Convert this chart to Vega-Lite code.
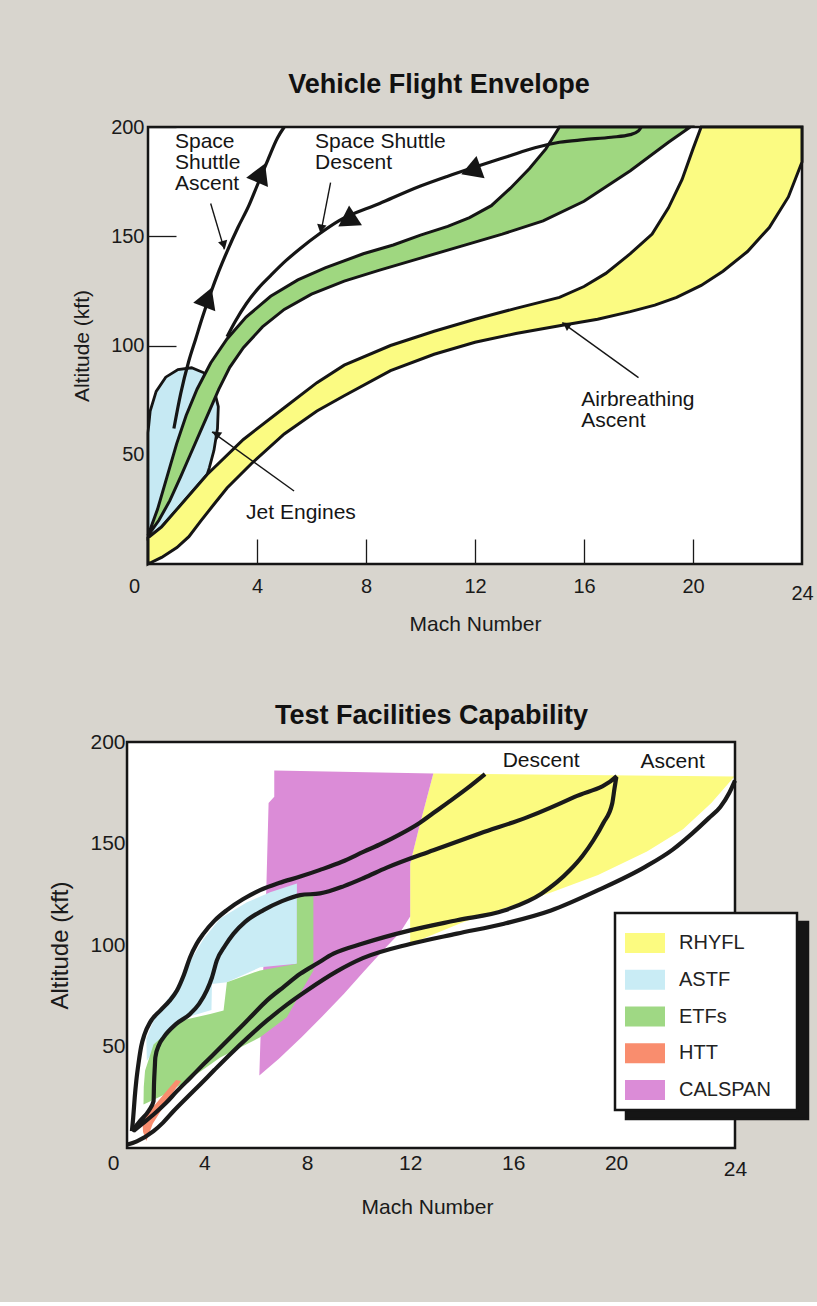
{
  "$schema": "https://vega.github.io/schema/vega-lite/v6.json",
  "background": "#d8d5ce",
  "padding": {"left": 48, "top": 69, "right": 4, "bottom": 85},
  "columns": 1,
  "align": "none",
  "spacing": 66,
  "resolve": {"scale": {"fill": "independent", "opacity": "independent"}, "legend": {"fill": "independent", "opacity": "independent"}},
  "config": {
    "font": "Liberation Sans",
    "view": {"stroke": "#151515", "strokeWidth": 2.5, "fill": "#ffffff"},
    "axis": {"grid": false, "domain": false, "labelColor": "#1a1a1a", "titleColor": "#1a1a1a", "tickColor": "#1a1a1a", "tickWidth": 1.3, "labelFlush": false, "labelOverlap": false, "labelBound": false, "titleFontWeight": "normal", "labelFont": "Liberation Sans", "titleFont": "Liberation Sans"},
    "title": {"fontWeight": "bold", "fontSize": 27, "color": "#111111", "font": "Liberation Sans"},
    "legend": {"strokeWidth": 2.5}
  },
  "datasets": {
    "top_shapes": [
      {"s":"blue","i":0,"M":0,"A":12},{"s":"blue","i":1,"M":0,"A":60},{"s":"blue","i":2,"M":0.08,"A":70},{"s":"blue","i":3,"M":0.3,"A":79},{"s":"blue","i":4,"M":0.65,"A":85.5},{"s":"blue","i":5,"M":1.1,"A":89},{"s":"blue","i":6,"M":1.6,"A":89.8},{"s":"blue","i":7,"M":2.05,"A":87.5},{"s":"blue","i":8,"M":2.4,"A":81},{"s":"blue","i":9,"M":2.58,"A":72},{"s":"blue","i":10,"M":2.55,"A":62},{"s":"blue","i":11,"M":2.42,"A":52},{"s":"blue","i":12,"M":2.25,"A":44},{"s":"blue","i":13,"M":2.17,"A":41},{"s":"blue","i":14,"M":1.06,"A":25},{"s":"blue","i":15,"M":0.5,"A":17},
      {"s":"green","i":0,"M":0,"A":13},{"s":"green","i":1,"M":0.35,"A":25},{"s":"green","i":2,"M":0.7,"A":40},{"s":"green","i":3,"M":1.05,"A":55},{"s":"green","i":4,"M":1.4,"A":68},{"s":"green","i":5,"M":1.8,"A":80},{"s":"green","i":6,"M":2.3,"A":92},{"s":"green","i":7,"M":2.9,"A":103},{"s":"green","i":8,"M":3.6,"A":113},{"s":"green","i":9,"M":4.5,"A":122.5},{"s":"green","i":10,"M":5.5,"A":130},{"s":"green","i":11,"M":6.5,"A":135.5},{"s":"green","i":12,"M":7.9,"A":142},{"s":"green","i":13,"M":9.0,"A":146},{"s":"green","i":14,"M":10.0,"A":150.5},{"s":"green","i":15,"M":11.0,"A":154.5},{"s":"green","i":16,"M":11.8,"A":158.5},{"s":"green","i":17,"M":12.6,"A":164},{"s":"green","i":18,"M":13.3,"A":172},{"s":"green","i":19,"M":14.0,"A":181},{"s":"green","i":20,"M":14.6,"A":190},{"s":"green","i":21,"M":15.1,"A":200},{"s":"green","i":22,"M":19.9,"A":200},{"s":"green","i":23,"M":19.1,"A":193},{"s":"green","i":24,"M":17.7,"A":180},{"s":"green","i":25,"M":16.0,"A":166},{"s":"green","i":26,"M":14.5,"A":157},{"s":"green","i":27,"M":13.0,"A":151},{"s":"green","i":28,"M":11.5,"A":145.5},{"s":"green","i":29,"M":10.0,"A":140},{"s":"green","i":30,"M":8.5,"A":134.5},{"s":"green","i":31,"M":7.2,"A":129.5},{"s":"green","i":32,"M":6.0,"A":123.5},{"s":"green","i":33,"M":5.0,"A":116.5},{"s":"green","i":34,"M":4.2,"A":108.5},{"s":"green","i":35,"M":3.5,"A":99},{"s":"green","i":36,"M":3.0,"A":90},{"s":"green","i":37,"M":2.6,"A":80},{"s":"green","i":38,"M":2.25,"A":70},{"s":"green","i":39,"M":1.9,"A":60},{"s":"green","i":40,"M":1.55,"A":50},{"s":"green","i":41,"M":1.2,"A":40},{"s":"green","i":42,"M":0.8,"A":29},{"s":"green","i":43,"M":0.4,"A":20},
      {"s":"yellow","i":0,"M":0,"A":0},{"s":"yellow","i":1,"M":0.5,"A":3},{"s":"yellow","i":2,"M":1.06,"A":7.5},{"s":"yellow","i":3,"M":1.5,"A":12.5},{"s":"yellow","i":4,"M":1.94,"A":19.7},{"s":"yellow","i":5,"M":2.4,"A":27},{"s":"yellow","i":6,"M":2.9,"A":34.8},{"s":"yellow","i":7,"M":3.8,"A":46},{"s":"yellow","i":8,"M":5.0,"A":59.5},{"s":"yellow","i":9,"M":6.2,"A":70},{"s":"yellow","i":10,"M":7.2,"A":77},{"s":"yellow","i":11,"M":8.9,"A":88.5},{"s":"yellow","i":12,"M":10.5,"A":96},{"s":"yellow","i":13,"M":12.0,"A":101.5},{"s":"yellow","i":14,"M":13.5,"A":105.5},{"s":"yellow","i":15,"M":15.1,"A":109},{"s":"yellow","i":16,"M":16.5,"A":112},{"s":"yellow","i":17,"M":17.7,"A":115.5},{"s":"yellow","i":18,"M":18.6,"A":118.5},{"s":"yellow","i":19,"M":19.4,"A":122},{"s":"yellow","i":20,"M":20.3,"A":127.5},{"s":"yellow","i":21,"M":21.1,"A":134},{"s":"yellow","i":22,"M":22.0,"A":143},{"s":"yellow","i":23,"M":22.8,"A":154},{"s":"yellow","i":24,"M":23.5,"A":168},{"s":"yellow","i":25,"M":24,"A":184},{"s":"yellow","i":26,"M":24,"A":200},{"s":"yellow","i":27,"M":20.3,"A":200},{"s":"yellow","i":28,"M":20.0,"A":190},{"s":"yellow","i":29,"M":19.6,"A":176},{"s":"yellow","i":30,"M":19.1,"A":163},{"s":"yellow","i":31,"M":18.5,"A":151},{"s":"yellow","i":32,"M":17.7,"A":142},{"s":"yellow","i":33,"M":16.8,"A":133},{"s":"yellow","i":34,"M":16.0,"A":127},{"s":"yellow","i":35,"M":15.1,"A":122},{"s":"yellow","i":36,"M":13.5,"A":117},{"s":"yellow","i":37,"M":12.0,"A":112},{"s":"yellow","i":38,"M":10.5,"A":106.5},{"s":"yellow","i":39,"M":8.9,"A":100},{"s":"yellow","i":40,"M":7.2,"A":91},{"s":"yellow","i":41,"M":6.2,"A":83},{"s":"yellow","i":42,"M":5.0,"A":71.5},{"s":"yellow","i":43,"M":3.5,"A":57},{"s":"yellow","i":44,"M":2.17,"A":41},{"s":"yellow","i":45,"M":1.06,"A":25},{"s":"yellow","i":46,"M":0.5,"A":17},{"s":"yellow","i":47,"M":0,"A":12}
    ],
    "top_lines": [
      {"s":"ascent","i":0,"M":0.95,"A":62},{"s":"ascent","i":1,"M":1.2,"A":78},{"s":"ascent","i":2,"M":1.5,"A":93},{"s":"ascent","i":3,"M":1.75,"A":103},{"s":"ascent","i":4,"M":2.0,"A":113},{"s":"ascent","i":5,"M":2.3,"A":124},{"s":"ascent","i":6,"M":2.6,"A":134},{"s":"ascent","i":7,"M":2.9,"A":143},{"s":"ascent","i":8,"M":3.3,"A":154},{"s":"ascent","i":9,"M":3.7,"A":164},{"s":"ascent","i":10,"M":4.0,"A":173},{"s":"ascent","i":11,"M":4.4,"A":185},{"s":"ascent","i":12,"M":4.75,"A":195},{"s":"ascent","i":13,"M":5.0,"A":200},
      {"s":"descent","i":0,"M":18.1,"A":200},{"s":"descent","i":1,"M":18.0,"A":198.2},{"s":"descent","i":2,"M":17.7,"A":196.5},{"s":"descent","i":3,"M":17.0,"A":195.3},{"s":"descent","i":4,"M":16.0,"A":194.2},{"s":"descent","i":5,"M":15.1,"A":193},{"s":"descent","i":6,"M":14.2,"A":190.5},{"s":"descent","i":7,"M":13.2,"A":186.5},{"s":"descent","i":8,"M":12.2,"A":182.5},{"s":"descent","i":9,"M":11.0,"A":177.5},{"s":"descent","i":10,"M":10.0,"A":173},{"s":"descent","i":11,"M":8.5,"A":165},{"s":"descent","i":12,"M":7.0,"A":157},{"s":"descent","i":13,"M":6.28,"A":151},{"s":"descent","i":14,"M":5.6,"A":144.5},{"s":"descent","i":15,"M":5.05,"A":138.7},{"s":"descent","i":16,"M":4.5,"A":132},{"s":"descent","i":17,"M":4.07,"A":126.5},{"s":"descent","i":18,"M":3.6,"A":119},{"s":"descent","i":19,"M":3.2,"A":111},{"s":"descent","i":20,"M":2.9,"A":104}
    ],
    "top_pointers": [
      {"s":"p1","i":0,"M":2.3,"A":165},{"s":"p1","i":1,"M":2.8,"A":144},
      {"s":"p2","i":0,"M":6.7,"A":174.5},{"s":"p2","i":1,"M":6.34,"A":151.5},
      {"s":"p3","i":0,"M":5.36,"A":33.4},{"s":"p3","i":1,"M":2.35,"A":60.5},
      {"s":"p4","i":0,"M":18.0,"A":85.3},{"s":"p4","i":1,"M":15.2,"A":110.5}
    ],
    "top_arrows": [
      {"kind":"big","M":2.2,"A":122,"ang":21},
      {"kind":"big","M":4.15,"A":179,"ang":23},
      {"kind":"big","M":7.3,"A":157,"ang":237},
      {"kind":"big","M":11.85,"A":180,"ang":250},
      {"kind":"small","M":2.78,"A":146,"ang":164},
      {"kind":"small","M":6.35,"A":153.5,"ang":191},
      {"kind":"small","M":2.5,"A":59.5,"ang":306},
      {"kind":"small","M":15.35,"A":109.5,"ang":305}
    ],
    "top_text": [
      {"label":"Space\nShuttle\nAscent","M":0.99,"A":198},
      {"label":"Space Shuttle\nDescent","M":6.13,"A":198},
      {"label":"Jet Engines","M":3.6,"A":28.5},
      {"label":"Airbreathing\nAscent","M":15.9,"A":80}
    ],
    "frame": [{"x1": 1.0, "x2": 24.62, "y1": 0, "y2": 200}],
    "bot_shapes": [
      {"s":"RHYFL","i":0,"M":12.0,"A":100.5},{"s":"RHYFL","i":1,"M":12.0,"A":140},{"s":"RHYFL","i":2,"M":12.35,"A":158},{"s":"RHYFL","i":3,"M":12.9,"A":184.5},{"s":"RHYFL","i":4,"M":24.6,"A":183},{"s":"RHYFL","i":5,"M":23.7,"A":170},{"s":"RHYFL","i":6,"M":22.6,"A":157},{"s":"RHYFL","i":7,"M":21.2,"A":146},{"s":"RHYFL","i":8,"M":19.3,"A":134.5},{"s":"RHYFL","i":9,"M":17.5,"A":126},{"s":"RHYFL","i":10,"M":15.5,"A":117.5},{"s":"RHYFL","i":11,"M":14.0,"A":111},
      {"s":"CALSPAN","i":0,"M":6.72,"A":186},{"s":"CALSPAN","i":1,"M":12.9,"A":184.5},{"s":"CALSPAN","i":2,"M":12.35,"A":158},{"s":"CALSPAN","i":3,"M":12.0,"A":140},{"s":"CALSPAN","i":4,"M":12.0,"A":114},{"s":"CALSPAN","i":5,"M":11.6,"A":106},{"s":"CALSPAN","i":6,"M":11.07,"A":99},{"s":"CALSPAN","i":7,"M":10.2,"A":87},{"s":"CALSPAN","i":8,"M":9.43,"A":76},{"s":"CALSPAN","i":9,"M":8.6,"A":65},{"s":"CALSPAN","i":10,"M":7.78,"A":54.6},{"s":"CALSPAN","i":11,"M":6.9,"A":44},{"s":"CALSPAN","i":12,"M":6.14,"A":35.7},{"s":"CALSPAN","i":13,"M":6.2,"A":60},{"s":"CALSPAN","i":14,"M":6.3,"A":90},{"s":"CALSPAN","i":15,"M":6.41,"A":127},{"s":"CALSPAN","i":16,"M":6.5,"A":170},{"s":"CALSPAN","i":17,"M":6.72,"A":173},
      {"s":"ASTF","i":0,"M":7.6,"A":130.3},{"s":"ASTF","i":1,"M":7.6,"A":90.8},{"s":"ASTF","i":2,"M":6.17,"A":89},{"s":"ASTF","i":3,"M":4.88,"A":81.7},{"s":"ASTF","i":4,"M":4.3,"A":80.8},{"s":"ASTF","i":5,"M":4.28,"A":68},{"s":"ASTF","i":6,"M":3.33,"A":64.4},{"s":"ASTF","i":7,"M":2.41,"A":54.5},{"s":"ASTF","i":8,"M":1.77,"A":43},{"s":"ASTF","i":9,"M":1.75,"A":54},{"s":"ASTF","i":10,"M":2.0,"A":62},{"s":"ASTF","i":11,"M":2.5,"A":72},{"s":"ASTF","i":12,"M":3.0,"A":80},{"s":"ASTF","i":13,"M":3.45,"A":92},{"s":"ASTF","i":14,"M":3.97,"A":103},{"s":"ASTF","i":15,"M":4.62,"A":113},{"s":"ASTF","i":16,"M":5.66,"A":121},{"s":"ASTF","i":17,"M":6.56,"A":126},
      {"s":"ETFs","i":0,"M":7.6,"A":124},{"s":"ETFs","i":1,"M":8.24,"A":126},{"s":"ETFs","i":2,"M":8.24,"A":87.5},{"s":"ETFs","i":3,"M":7.79,"A":77.6},{"s":"ETFs","i":4,"M":7.21,"A":64.4},{"s":"ETFs","i":5,"M":6.17,"A":54.5},{"s":"ETFs","i":6,"M":4.62,"A":44.6},{"s":"ETFs","i":7,"M":3.33,"A":33},{"s":"ETFs","i":8,"M":2.4,"A":26},{"s":"ETFs","i":9,"M":1.64,"A":21.4},{"s":"ETFs","i":10,"M":1.65,"A":30},{"s":"ETFs","i":11,"M":1.7,"A":38},{"s":"ETFs","i":12,"M":2.03,"A":51},{"s":"ETFs","i":13,"M":3.07,"A":62.7},{"s":"ETFs","i":14,"M":4.23,"A":66},{"s":"ETFs","i":15,"M":4.75,"A":67.7},{"s":"ETFs","i":16,"M":4.88,"A":81.7},{"s":"ETFs","i":17,"M":6.17,"A":87.5},{"s":"ETFs","i":18,"M":7.6,"A":90.8},
      {"s":"HTT","i":0,"M":1.6,"A":14},{"s":"HTT","i":1,"M":2.9,"A":33.5},{"s":"HTT","i":2,"M":3.1,"A":33},{"s":"HTT","i":3,"M":2.6,"A":24},{"s":"HTT","i":4,"M":2.0,"A":12},{"s":"HTT","i":5,"M":1.75,"A":3.5},{"s":"HTT","i":6,"M":1.62,"A":8}
    ],
    "bot_lines": [
      {"s":"L1","i":0,"M":1.19,"A":8.3},{"s":"L1","i":1,"M":1.24,"A":15},{"s":"L1","i":2,"M":1.3,"A":25},{"s":"L1","i":3,"M":1.36,"A":33},{"s":"L1","i":4,"M":1.45,"A":42},{"s":"L1","i":5,"M":1.55,"A":50},{"s":"L1","i":6,"M":1.68,"A":56},{"s":"L1","i":7,"M":1.9,"A":62},{"s":"L1","i":8,"M":2.29,"A":67.7},{"s":"L1","i":9,"M":2.65,"A":72.5},{"s":"L1","i":10,"M":2.94,"A":77.6},{"s":"L1","i":11,"M":3.2,"A":85},{"s":"L1","i":12,"M":3.45,"A":94},{"s":"L1","i":13,"M":3.7,"A":100.5},{"s":"L1","i":14,"M":3.97,"A":105.6},{"s":"L1","i":15,"M":4.4,"A":112},{"s":"L1","i":16,"M":4.88,"A":117.2},{"s":"L1","i":17,"M":5.5,"A":122.5},{"s":"L1","i":18,"M":6.17,"A":127},{"s":"L1","i":19,"M":6.9,"A":130.5},{"s":"L1","i":20,"M":7.73,"A":133.7},{"s":"L1","i":21,"M":8.5,"A":137},{"s":"L1","i":22,"M":9.35,"A":141},{"s":"L1","i":23,"M":10.2,"A":146},{"s":"L1","i":24,"M":10.9,"A":150},{"s":"L1","i":25,"M":11.6,"A":154.5},{"s":"L1","i":26,"M":12.35,"A":160},{"s":"L1","i":27,"M":12.9,"A":165},{"s":"L1","i":28,"M":13.45,"A":170},{"s":"L1","i":29,"M":14.2,"A":177},{"s":"L1","i":30,"M":14.91,"A":184.2},
      {"s":"L2","i":0,"M":1.19,"A":8.3},{"s":"L2","i":1,"M":1.51,"A":13.4},{"s":"L2","i":2,"M":1.85,"A":18.5},{"s":"L2","i":3,"M":2.03,"A":23},{"s":"L2","i":4,"M":2.05,"A":32},{"s":"L2","i":5,"M":2.08,"A":40},{"s":"L2","i":6,"M":2.1,"A":44.6},{"s":"L2","i":7,"M":2.25,"A":51},{"s":"L2","i":8,"M":2.42,"A":54.5},{"s":"L2","i":9,"M":2.9,"A":61},{"s":"L2","i":10,"M":3.45,"A":66},{"s":"L2","i":11,"M":3.8,"A":71},{"s":"L2","i":12,"M":4.1,"A":77.6},{"s":"L2","i":13,"M":4.3,"A":84},{"s":"L2","i":14,"M":4.49,"A":92.4},{"s":"L2","i":15,"M":4.8,"A":99.5},{"s":"L2","i":16,"M":5.14,"A":105.6},{"s":"L2","i":17,"M":5.6,"A":111.5},{"s":"L2","i":18,"M":6.3,"A":117.2},{"s":"L2","i":19,"M":7.0,"A":121.5},{"s":"L2","i":20,"M":7.73,"A":124.6},{"s":"L2","i":21,"M":8.5,"A":125.4},{"s":"L2","i":22,"M":9.43,"A":129},{"s":"L2","i":23,"M":10.2,"A":133},{"s":"L2","i":24,"M":11.07,"A":138},{"s":"L2","i":25,"M":12.9,"A":146.7},{"s":"L2","i":26,"M":14.73,"A":155},{"s":"L2","i":27,"M":16.56,"A":163},{"s":"L2","i":28,"M":18.39,"A":173},{"s":"L2","i":29,"M":20.03,"A":183.2},{"s":"L2","i":30,"M":19.95,"A":178},{"s":"L2","i":31,"M":19.85,"A":169.7},{"s":"L2","i":32,"M":19.5,"A":160},{"s":"L2","i":33,"M":19.12,"A":151.6},{"s":"L2","i":34,"M":18.7,"A":144},{"s":"L2","i":35,"M":18.2,"A":136.8},{"s":"L2","i":36,"M":17.1,"A":125.3},{"s":"L2","i":37,"M":15.65,"A":117},{"s":"L2","i":38,"M":13.82,"A":112.2},{"s":"L2","i":39,"M":12.0,"A":107.2},{"s":"L2","i":40,"M":10.16,"A":100.7},{"s":"L2","i":41,"M":9.02,"A":95.7},{"s":"L2","i":42,"M":8.4,"A":91},{"s":"L2","i":43,"M":7.73,"A":85.8},{"s":"L2","i":44,"M":7.1,"A":79.5},{"s":"L2","i":45,"M":6.43,"A":72.6},{"s":"L2","i":46,"M":5.8,"A":64.5},{"s":"L2","i":47,"M":5.14,"A":56},{"s":"L2","i":48,"M":4.55,"A":48.5},{"s":"L2","i":49,"M":3.97,"A":41.2},{"s":"L2","i":50,"M":3.45,"A":34.5},{"s":"L2","i":51,"M":2.94,"A":28},{"s":"L2","i":52,"M":2.5,"A":22},{"s":"L2","i":53,"M":2.03,"A":16.5},{"s":"L2","i":54,"M":1.6,"A":12},{"s":"L2","i":55,"M":1.25,"A":8.3},
      {"s":"L4","i":0,"M":0.99,"A":1.6},{"s":"L4","i":1,"M":1.38,"A":3.3},{"s":"L4","i":2,"M":2.03,"A":8.3},{"s":"L4","i":3,"M":2.4,"A":12.5},{"s":"L4","i":4,"M":2.81,"A":18.2},{"s":"L4","i":5,"M":3.3,"A":24.5},{"s":"L4","i":6,"M":3.84,"A":31.3},{"s":"L4","i":7,"M":4.4,"A":38.5},{"s":"L4","i":8,"M":5.01,"A":46.2},{"s":"L4","i":9,"M":5.7,"A":54.5},{"s":"L4","i":10,"M":6.43,"A":62.7},{"s":"L4","i":11,"M":7.2,"A":70.5},{"s":"L4","i":12,"M":7.99,"A":77.6},{"s":"L4","i":13,"M":9.15,"A":87},{"s":"L4","i":14,"M":10.16,"A":93.5},{"s":"L4","i":15,"M":12.0,"A":100.5},{"s":"L4","i":16,"M":13.82,"A":105.6},{"s":"L4","i":17,"M":15.65,"A":110.5},{"s":"L4","i":18,"M":17.47,"A":117},{"s":"L4","i":19,"M":19.3,"A":127},{"s":"L4","i":20,"M":21.13,"A":138.5},{"s":"L4","i":21,"M":22.2,"A":147},{"s":"L4","i":22,"M":22.96,"A":155},{"s":"L4","i":23,"M":23.6,"A":162.5},{"s":"L4","i":24,"M":24.05,"A":168},{"s":"L4","i":25,"M":24.4,"A":175},{"s":"L4","i":26,"M":24.62,"A":181}
    ],
    "bot_text": [
      {"label":"Descent","M":17.09,"A":190.5},
      {"label":"Ascent","M":22.2,"A":190}
    ]
  },
  "concat": [
    {
      "width": 654,
      "height": 437,
      "title": {"text": "Vehicle Flight Envelope", "offset": 18, "dx": -36},
      "encoding": {
        "x": {"field": "M", "type": "quantitative", "scale": {"domain": [0, 24], "nice": false, "zero": false},
          "axis": {"values": [0, 4, 8, 12, 16, 20, 24], "title": "Mach Number", "titleFontSize": 21, "titlePadding": 10, "labelFontSize": 20, "tickSize": -25,
            "tickOpacity": {"condition": {"test": "datum.value == 0 || datum.value == 24", "value": 0}, "value": 1},
            "labelPadding": {"condition": {"test": "datum.value == 24", "value": 44}, "value": 37},
            "labelOffset": {"condition": {"test": "datum.value == 0", "value": -14}, "value": 0}}},
        "y": {"field": "A", "type": "quantitative", "scale": {"domain": [0, 200], "nice": false, "zero": false},
          "axis": {"values": [50, 100, 150, 200], "title": ["", "Altitude (kft)"], "titleLineHeight": 22, "titleFontSize": 21, "titlePadding": 18, "labelFontSize": 20, "tickSize": -28, "labelPadding": 32}}
      },
      "layer": [
        {"data": {"name": "top_shapes"}, "transform": [{"filter": "datum.s == 'blue'"}],
          "mark": {"type": "line", "interpolate": "linear-closed", "fill": "#c6e9f3", "stroke": "#151515", "strokeWidth": 2.8},
          "encoding": {"order": {"field": "i", "type": "quantitative"}}},
        {"data": {"name": "top_shapes"}, "transform": [{"filter": "datum.s == 'green'"}],
          "mark": {"type": "line", "interpolate": "linear-closed", "fill": "#9fd780", "stroke": "#151515", "strokeWidth": 3},
          "encoding": {"order": {"field": "i", "type": "quantitative"}}},
        {"data": {"name": "top_shapes"}, "transform": [{"filter": "datum.s == 'yellow'"}],
          "mark": {"type": "line", "interpolate": "linear-closed", "fill": "#fbfb82", "stroke": "#151515", "strokeWidth": 3},
          "encoding": {"order": {"field": "i", "type": "quantitative"}}},
        {"data": {"name": "top_lines"},
          "mark": {"type": "line", "interpolate": "monotone", "stroke": "#151515", "strokeWidth": 3.2},
          "encoding": {"detail": {"field": "s"}, "order": {"field": "i", "type": "quantitative"}}},
        {"data": {"name": "top_pointers"},
          "mark": {"type": "line", "stroke": "#151515", "strokeWidth": 1.4},
          "encoding": {"detail": {"field": "s"}, "order": {"field": "i", "type": "quantitative"}}},
        {"data": {"name": "top_arrows"}, "transform": [{"filter": "datum.kind == 'big'"}],
          "mark": {"type": "point", "shape": "triangle-up", "filled": true, "color": "#151515", "opacity": 1, "size": 560},
          "encoding": {"angle": {"field": "ang", "type": "quantitative", "scale": null}}},
        {"data": {"name": "top_arrows"}, "transform": [{"filter": "datum.kind == 'small'"}],
          "mark": {"type": "point", "shape": "triangle-up", "filled": true, "color": "#151515", "opacity": 1, "size": 90},
          "encoding": {"angle": {"field": "ang", "type": "quantitative", "scale": null}}},
        {"data": {"name": "top_text"},
          "mark": {"type": "text", "align": "left", "baseline": "top", "lineBreak": "\n", "fontSize": 21, "lineHeight": 21, "color": "#151515", "font": "Liberation Sans"},
          "encoding": {"text": {"field": "label"}}}
      ]
    },
    {
      "width": 587,
      "height": 406,
      "view": {"stroke": null, "fill": null},
      "title": {"text": "Test Facilities Capability", "offset": 1, "dx": -10},
      "encoding": {
        "x": {"field": "M", "type": "quantitative", "scale": {"domain": [1.815, 24.62], "nice": false, "zero": false},
          "axis": {"values": [1.815, 4, 8, 12, 16, 20, 24.62], "labelExpr": "datum.value < 2 ? '0' : datum.value > 24 ? '24' : datum.label", "title": "Mach Number", "titleX": 279, "titleFontSize": 21, "titlePadding": 17, "labelFontSize": 21, "tickSize": -20,
            "tickOpacity": {"condition": {"test": "datum.value < 2 || datum.value > 24", "value": 0}, "value": 1},
            "labelPadding": {"condition": {"test": "datum.value > 24", "value": 30}, "value": 24},
            "labelOffset": {"condition": {"test": "datum.value < 2", "value": -35}, "value": 0}}},
        "y": {"field": "A", "type": "quantitative", "scale": {"domain": [0, 200], "nice": false, "zero": false},
          "axis": {"values": [50, 100, 150, 200], "offset": 21, "title": "Altitude (kft)", "titleFontSize": 24, "titlePadding": 17, "labelFontSize": 21, "tickSize": -22, "labelPadding": 24}}
      },
      "layer": [
        {"data": {"name": "frame"},
          "mark": {"type": "rect", "fill": "#ffffff", "strokeWidth": 0},
          "encoding": {"x": {"field": "x1", "type": "quantitative"}, "x2": {"field": "x2"}, "y": {"field": "y1", "type": "quantitative"}, "y2": {"field": "y2"}}},
        {"data": {"name": "bot_shapes"}, "transform": [{"filter": "datum.s == 'RHYFL'"}],
          "mark": {"type": "line", "interpolate": "linear-closed", "stroke": "transparent", "strokeWidth": 0},
          "encoding": {"order": {"field": "i", "type": "quantitative"},
            "fill": {"field": "s", "type": "nominal", "scale": {"domain": ["RHYFL", "ASTF", "ETFs", "HTT", "CALSPAN"], "range": ["#fcfb80", "#c9ecf5", "#9fd884", "#f98d6e", "#db8cd7"]},
              "legend": {"orient": "none", "legendX": 467, "legendY": 171, "zindex": 2, "title": ".", "titleOrient": "right", "titleColor": "#ffffff", "titleFontSize": 20, "titlePadding": 10, "symbolType": "M-1,-0.5H1V0.5H-1Z", "symbolSize": 1600, "symbolStrokeWidth": 0, "symbolOpacity": 1, "labelFontSize": 20, "labelFont": "Liberation Sans", "labelColor": "#222222", "padding": 10, "rowPadding": 6.75, "labelOffset": 14, "fillColor": "#ffffff", "strokeColor": "#151515"}}}},
        {"data": {"name": "bot_shapes"}, "transform": [{"filter": "datum.s == 'CALSPAN'"}],
          "mark": {"type": "line", "interpolate": "linear-closed", "stroke": "transparent", "strokeWidth": 0},
          "encoding": {"order": {"field": "i", "type": "quantitative"}, "fill": {"field": "s", "type": "nominal"}}},
        {"data": {"name": "bot_shapes"}, "transform": [{"filter": "datum.s == 'ASTF'"}],
          "mark": {"type": "line", "interpolate": "linear-closed", "stroke": "transparent", "strokeWidth": 0},
          "encoding": {"order": {"field": "i", "type": "quantitative"}, "fill": {"field": "s", "type": "nominal"}}},
        {"data": {"name": "bot_shapes"}, "transform": [{"filter": "datum.s == 'ETFs'"}],
          "mark": {"type": "line", "interpolate": "linear-closed", "stroke": "transparent", "strokeWidth": 0},
          "encoding": {"order": {"field": "i", "type": "quantitative"}, "fill": {"field": "s", "type": "nominal"}}},
        {"data": {"name": "bot_shapes"}, "transform": [{"filter": "datum.s == 'HTT'"}],
          "mark": {"type": "line", "interpolate": "linear-closed", "stroke": "transparent", "strokeWidth": 0},
          "encoding": {"order": {"field": "i", "type": "quantitative"}, "fill": {"field": "s", "type": "nominal"}}},
        {"data": {"name": "bot_lines"},
          "mark": {"type": "line", "interpolate": "monotone", "stroke": "#1a1a1a", "strokeWidth": 4.2},
          "encoding": {"detail": {"field": "s"}, "order": {"field": "i", "type": "quantitative"}}},
        {"data": {"name": "bot_text"},
          "mark": {"type": "text", "align": "center", "baseline": "middle", "fontSize": 21, "color": "#151515", "font": "Liberation Sans"},
          "encoding": {"text": {"field": "label"}}},
        {"data": {"name": "frame"},
          "mark": {"type": "rect", "fill": "transparent", "stroke": "#151515", "strokeWidth": 2.5},
          "encoding": {"x": {"field": "x1", "type": "quantitative"}, "x2": {"field": "x2"}, "y": {"field": "y1", "type": "quantitative"}, "y2": {"field": "y2"}}},
        {"data": {"name": "bot_shapes"}, "transform": [{"filter": "datum.i == 0"}],
          "mark": {"type": "text", "text": ""},
          "encoding": {"opacity": {"field": "s", "type": "nominal", "scale": {"range": [1, 1, 1, 1, 1]},
            "legend": {"orient": "none", "legendX": 478, "legendY": 180, "zindex": 1, "title": null, "symbolType": "M-1,-0.5H1V0.5H-1Z", "symbolSize": 1600, "symbolStrokeWidth": 0, "symbolFillColor": "#151515", "symbolOpacity": 1, "labelFontSize": 20, "labelFont": "Liberation Sans", "labelColor": "#151515", "padding": 10, "rowPadding": 6.75, "labelOffset": 116, "fillColor": "#151515", "strokeColor": "#151515", "labelExpr": "'.'"}}}}
      ]
    }
  ]
}
